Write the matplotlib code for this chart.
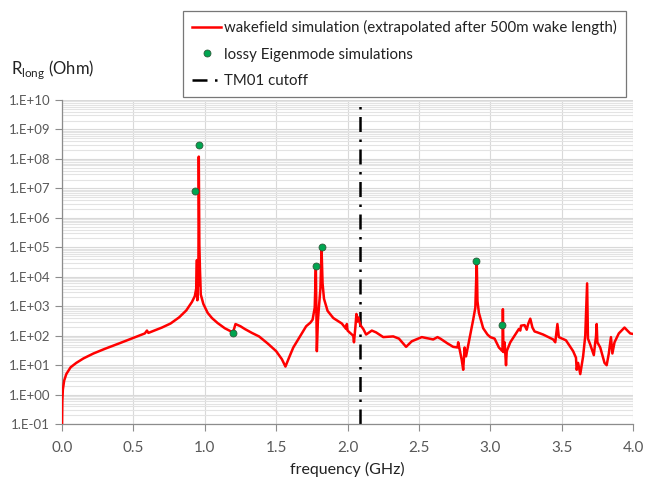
import numpy as np
import matplotlib
matplotlib.use("Agg")
import matplotlib.pyplot as plt
from matplotlib.ticker import LogLocator, FixedLocator, FuncFormatter

plt.rcParams['font.family'] = ['Lato', 'DejaVu Sans']

# wakefield simulation (frequency in GHz, R_long in Ohm)
freq = [0.000, 0.002, 0.006, 0.015, 0.030, 0.060, 0.100, 0.150, 0.220, 0.300,
        0.400, 0.500, 0.580, 0.595, 0.605, 0.700, 0.760, 0.820, 0.870, 0.910,
        0.930, 0.940, 0.945, 0.948, 0.952, 0.955, 0.958, 0.962, 0.966, 0.972,
        0.990, 1.020, 1.050, 1.090, 1.140, 1.190, 1.195, 1.205, 1.215, 1.250,
        1.280, 1.330, 1.380, 1.440, 1.500, 1.540, 1.565, 1.590, 1.620, 1.670,
        1.710, 1.740, 1.755, 1.770, 1.778, 1.785, 1.792, 1.800, 1.810, 1.818,
        1.825, 1.835, 1.860, 1.900, 1.960, 1.990, 1.995, 2.000, 2.040, 2.045,
        2.055, 2.062, 2.068, 2.075, 2.090, 2.110, 2.130, 2.170, 2.200, 2.250,
        2.320, 2.360, 2.410, 2.450, 2.520, 2.570, 2.600, 2.630, 2.650, 2.700,
        2.740, 2.770, 2.775, 2.785, 2.800, 2.810, 2.820, 2.830, 2.860, 2.880,
        2.895, 2.905, 2.910, 2.920, 2.950, 2.980, 3.000, 3.030, 3.060, 3.085,
        3.088, 3.092, 3.100, 3.110, 3.115, 3.140, 3.200, 3.210, 3.215, 3.240,
        3.255, 3.265, 3.280, 3.295, 3.310, 3.330, 3.370, 3.440, 3.455, 3.470,
        3.480, 3.530, 3.580, 3.600, 3.605, 3.615, 3.630, 3.650, 3.665, 3.678,
        3.684, 3.700, 3.725, 3.735, 3.740, 3.745, 3.750, 3.770, 3.800, 3.815,
        3.830, 3.845, 3.855, 3.870, 3.900, 3.940, 3.960, 3.980, 4.000]
r_long = [0.1, 0.6, 1.5, 3.0, 5.0, 8.5, 12, 17, 25, 36,
          55, 85, 120, 150, 125, 190, 260, 420, 720, 1400,
          2200, 4000, 3.7e4, 1600, 2e4, 5000, 1.2e8, 1.2e5, 2e4, 2500,
          1200, 600, 400, 270, 180, 135, 125, 170, 250, 210,
          170, 125, 95, 55, 30, 16, 9, 18, 40, 100,
          210, 280, 350, 900, 2.2e4, 30, 300, 1000, 4000, 9e4,
          6000, 1800, 700, 400, 260, 170, 250, 150, 100, 60,
          200, 550, 300, 420, 230, 170, 110, 150, 130, 90,
          95, 80, 42, 65, 90, 80, 75, 90, 80, 55,
          42, 40, 60, 35, 15, 7, 40, 20, 110, 350,
          900, 3.3e4, 1500, 600, 180, 110, 90, 80, 40, 30,
          800, 28, 60, 10, 30, 60, 170, 150, 220, 230,
          160, 250, 380, 190, 140, 130, 110, 75, 60, 250,
          90, 70, 30, 18, 7, 12, 5, 20, 100, 6000,
          80, 50, 22, 60, 90, 250, 60, 40, 12, 10,
          25, 90, 25, 60, 120, 190, 150, 120, 115]

# lossy Eigenmode simulations
eig_freq = [0.960, 0.932, 1.198, 1.780, 1.820, 2.900, 3.080]
eig_r = [3.0e8, 8.0e6, 120, 2.3e4, 1.0e5, 3.4e4, 230]

tm01_cutoff = 2.09

fig = plt.figure(figsize=(6.46, 4.82), dpi=100)
ax = fig.add_axes([0.096, 0.120, 0.884, 0.6725])

ax.plot(freq, r_long, color='#ff0000', lw=1.8,
        label='wakefield simulation (extrapolated after 500m wake length)', zorder=3)
ax.plot(eig_freq, eig_r, 'o', color='#00a651', mec='#2e5a3a', mew=0.6, ms=5,
        label='lossy Eigenmode simulations', zorder=4)
ax.axvline(tm01_cutoff, color='black', lw=1.8, ls=(0, (6, 3, 1, 3)),
           label='TM01 cutoff', zorder=2)

ax.set_yscale('log')
ax.set_ylim(0.1, 1e10)
ax.set_xlim(0, 4)
ax.xaxis.set_major_locator(FixedLocator(np.arange(0, 4.01, 0.5)))
ax.xaxis.set_major_formatter(FuncFormatter(lambda v, p: f'{v:.1f}'))
ax.yaxis.set_major_locator(LogLocator(base=10, numticks=20))
ax.yaxis.set_minor_locator(LogLocator(base=10, subs=np.arange(2, 10), numticks=20))
ax.yaxis.set_minor_formatter(FuncFormatter(lambda v, p: ''))

def sci(v, p):
    e = int(round(np.log10(v)))
    sign = '+' if e >= 0 else '-'
    return f'1.E{sign}{abs(e):02d}'

ax.yaxis.set_major_formatter(FuncFormatter(sci))

ax.grid(True, which='major', color='#d9d9d9', lw=0.8)
ax.grid(True, which='minor', axis='y', color='#e3e3e3', lw=0.8)
ax.set_axisbelow(True)
for s in ['top', 'right']:
    ax.spines[s].set_visible(False)
for s in ['left', 'bottom']:
    ax.spines[s].set_color('#8c8c8c')
    ax.spines[s].set_linewidth(0.9)
ax.tick_params(axis='both', which='major', colors='#8c8c8c', labelcolor='#595959',
               labelsize=9.5, length=5, direction='out')
ax.tick_params(axis='x', labelsize=11, pad=7)
ax.tick_params(axis='y', which='minor', length=0)

ax.set_xlabel('frequency (GHz)', fontsize=11.5, color='#222222', labelpad=5)
fig.text(0.017, 0.855, r'R$_{\mathregular{long}}$ (Ohm)', fontsize=12, color='#222222',
         ha='left', va='center')

leg = fig.legend(loc='upper right', bbox_to_anchor=(0.98, 0.993), fontsize=10.8,
                 frameon=True, fancybox=False, edgecolor='#555555', borderpad=0.6,
                 labelspacing=0.85, handlelength=1.9, handletextpad=0.2)
leg.get_frame().set_linewidth(0.9)
for t in leg.get_texts():
    t.set_color('#222222')

fig.savefig('out.png', dpi=100)
